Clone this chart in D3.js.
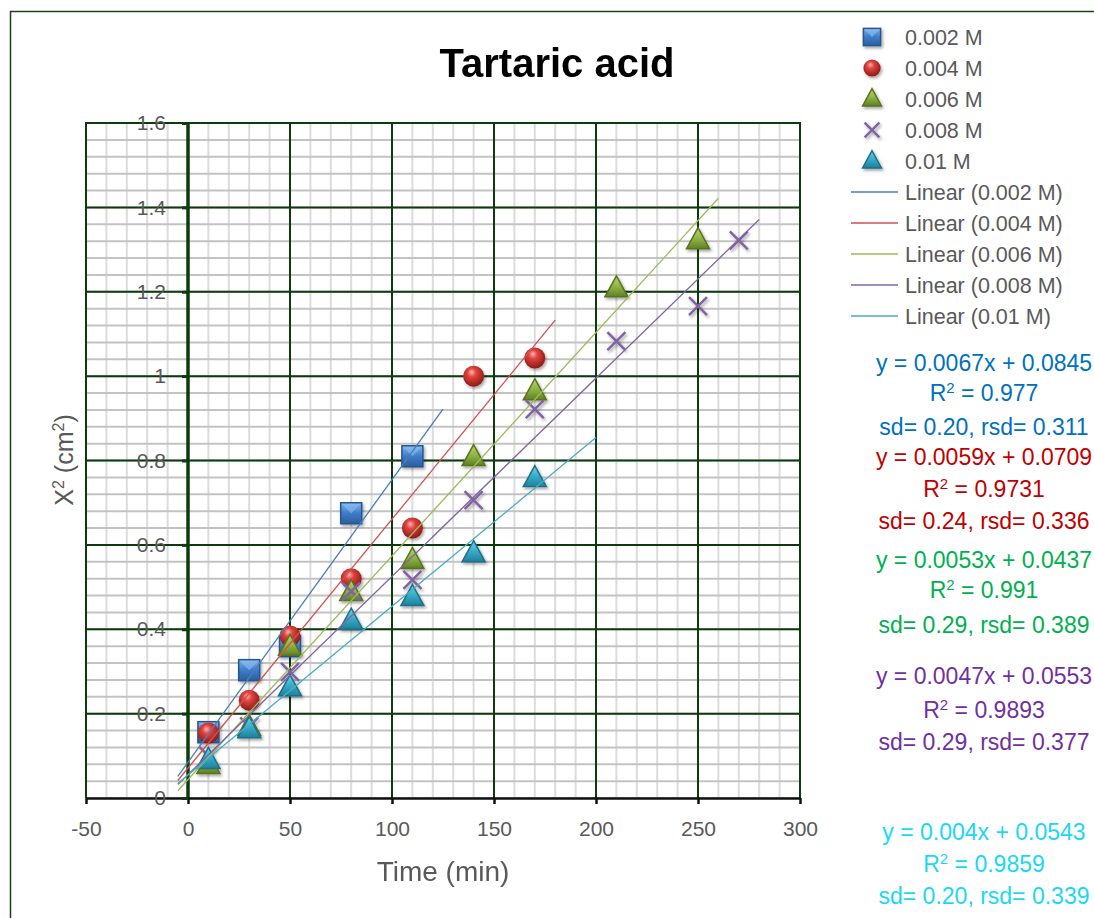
<!DOCTYPE html>
<html>
<head>
<meta charset="utf-8">
<script src="https://cdn.jsdelivr.net/npm/d3@7"></script>
<style>
    body { margin: 0; background: #fff; }
    text { font-family: "Liberation Sans", Arial, sans-serif; }
</style>
</head>
<body>
<div id="graph1"></div>
<script>
// chart data
const seriesNames = ["0.002 M", "0.004 M", "0.006 M", "0.008 M", "0.01 M"];

const time_002 = [10, 30, 50, 80, 110];
const x2_002 = [0.156, 0.303, 0.36, 0.675, 0.81];

const time_004 = [10, 30, 50, 80, 110, 140, 170];
const x2_004 = [0.154, 0.232, 0.384, 0.52, 0.64, 1.0, 1.043];

const time_006 = [10, 30, 50, 80, 110, 140, 170, 210, 250];
const x2_006 = [0.078, 0.168, 0.358, 0.488, 0.564, 0.808, 0.964, 1.208, 1.322];

const time_008 = [10, 30, 50, 80, 110, 140, 170, 210, 250, 270];
const x2_008 = [0.1, 0.17, 0.299, 0.49, 0.517, 0.706, 0.922, 1.083, 1.166, 1.322];

const time_01 = [10, 30, 50, 80, 110, 140, 170];
const x2_01 = [0.09, 0.163, 0.262, 0.42, 0.476, 0.58, 0.758];

// linear trendlines (from the equations on the chart)
const slopes = [0.0067, 0.0059, 0.0053, 0.0047, 0.004];
const intercepts = [0.0845, 0.0709, 0.0437, 0.0553, 0.0543];
const trendStart = [-5, -5, -5, -5, -5];
const trendEnd = [125, 180, 260, 280, 200];
const rSquared = ["0.977", "0.9731", "0.991", "0.9893", "0.9859"];
const sdLabels = ["sd= 0.20, rsd= 0.311", "sd= 0.24, rsd= 0.336", "sd= 0.29, rsd= 0.389",
                  "sd= 0.29, rsd= 0.377", "sd= 0.20, rsd= 0.339"];

// axis ticks
const xTicks = [-50, 0, 50, 100, 150, 200, 250, 300];
const yTicks = [0, 0.2, 0.4, 0.6, 0.8, 1, 1.2, 1.4, 1.6];

const WIDTH = 1094, HEIGHT = 918;
const plot = { left: 86, right: 800, top: 123, bottom: 798 };

const allTimes = [time_002, time_004, time_006, time_008, time_01];
const allValues = [x2_002, x2_004, x2_006, x2_008, x2_01];
const markerKinds = ["square", "sphere", "triangleGreen", "cross", "triangleCyan"];
const lineColors = ["#4a7ebb", "#d0524f", "#9bbb59", "#8064a2", "#4bacc6"];
const eqColors = ["#0070c0", "#c00000", "#00b050", "#7030a0", "#1ad8f5"];
const eqTop = [371, 465, 568, 684, 840];
const eqGaps = [[0, 30, 64], [0, 32, 64], [0, 30, 65], [0, 34, 66], [0, 32, 64]];

let svg = d3.select("#graph1")
    .append("svg")
    .attr("width", WIDTH)
    .attr("height", HEIGHT);

// gradients + shadow for the 3d looking markers
let defs = svg.append("defs");

function linGrad(id, stops) {
    let g = defs.append("linearGradient").attr("id", id)
        .attr("x1", 0).attr("y1", 0).attr("x2", 0).attr("y2", 1);
    stops.forEach(function (s) {
        g.append("stop").attr("offset", s[0]).attr("stop-color", s[1]);
    });
}
linGrad("gBlue", [[0, "#7fb2ea"], [0.5, "#3d7cc9"], [1, "#2a5f9e"]]);
linGrad("gGreen", [[0, "#b8d76e"], [0.55, "#8cb043"], [1, "#617f25"]]);
linGrad("gCyan", [[0, "#6fd2ea"], [0.55, "#34a7c4"], [1, "#21809a"]]);

let rg = defs.append("radialGradient").attr("id", "gRed")
    .attr("cx", 0.45).attr("cy", 0.4).attr("r", 0.6).attr("fx", 0.4).attr("fy", 0.3);
rg.append("stop").attr("offset", 0).attr("stop-color", "#ffb3b0");
rg.append("stop").attr("offset", 0.35).attr("stop-color", "#e0433e");
rg.append("stop").attr("offset", 1).attr("stop-color", "#8e1a17");

defs.append("filter").attr("id", "shadow")
    .attr("x", "-50%").attr("y", "-50%").attr("width", "200%").attr("height", "200%")
    .append("feDropShadow")
    .attr("dx", 1.5).attr("dy", 2).attr("stdDeviation", 1.5)
    .attr("flood-color", "#000").attr("flood-opacity", 0.35);

// outer chart border (runs off the right and bottom of the picture)
svg.append("path")
    .attr("d", `M10.5,${HEIGHT} L10.5,11.5 L${WIDTH},11.5`)
    .attr("fill", "none")
    .attr("stroke", "#1c421c")
    .attr("stroke-width", 1.5);

// scales
let x = d3.scaleLinear().domain([-50, 300]).range([plot.left, plot.right]);
let y = d3.scaleLinear().domain([0, 1.6]).range([plot.bottom, plot.top]);

// minor grid
let grid = svg.append("g");
grid.selectAll(".vminor")
    .data(d3.range(-50, 301, 10))
    .enter().append("line")
    .attr("x1", function (d) { return x(d); }).attr("x2", function (d) { return x(d); })
    .attr("y1", plot.top).attr("y2", plot.bottom)
    .attr("stroke", "#dcdcdc").attr("stroke-width", 2);
grid.selectAll(".hminor")
    .data(d3.range(0, 41).map(function (i) { return i * 0.04; }))
    .enter().append("line")
    .attr("x1", plot.left).attr("x2", plot.right)
    .attr("y1", function (d) { return y(d); }).attr("y2", function (d) { return y(d); })
    .attr("stroke", "#c3c3c3").attr("stroke-width", 2);

// major grid
grid.selectAll(".vmajor")
    .data(xTicks)
    .enter().append("line")
    .attr("x1", function (d) { return x(d); }).attr("x2", function (d) { return x(d); })
    .attr("y1", plot.top - 1).attr("y2", plot.bottom)
    .attr("stroke", "#0d3b0d").attr("stroke-width", function (d) { return d === 0 ? 3.5 : 2; });
grid.selectAll(".hmajor")
    .data(yTicks.slice(1))
    .enter().append("line")
    .attr("x1", plot.left).attr("x2", plot.right)
    .attr("y1", function (d) { return y(d); }).attr("y2", function (d) { return y(d); })
    .attr("stroke", "#0d3b0d").attr("stroke-width", 2);

// x axis
let xAxis = svg.append("g")
    .attr("transform", `translate(0, ${plot.bottom})`)
    .call(d3.axisBottom(x).tickValues(xTicks).tickSize(6).tickPadding(17).tickSizeOuter(0)
        .tickFormat(function (d) { return String(d); }));
xAxis.select(".domain").attr("stroke", "#111").attr("stroke-width", 2.5);
xAxis.selectAll(".tick line").attr("stroke", "#111").attr("stroke-width", 2.5);
xAxis.selectAll("text")
    .style("font-family", "Liberation Sans, Arial, sans-serif")
    .style("font-size", "21px")
    .attr("fill", "#595959");

// y axis (only ticks + labels, the line is the thick gridline at x = 0)
let yAxis = svg.append("g")
    .attr("transform", `translate(${x(0)}, 0)`)
    .call(d3.axisLeft(y).tickValues(yTicks).tickSize(6).tickPadding(16).tickSizeOuter(0)
        .tickFormat(function (d) { return String(+d.toFixed(1)); }));
yAxis.select(".domain").remove();
yAxis.selectAll(".tick line").attr("stroke", "#0d3b0d").attr("stroke-width", 3);
yAxis.selectAll("text")
    .style("font-family", "Liberation Sans, Arial, sans-serif")
    .style("font-size", "21px")
    .attr("fill", "#595959");

// markers
function drawMarker(g, kind, cx, cy, s) {
    if (kind === "square") {
        g.append("rect")
            .attr("x", cx - 10.5 * s).attr("y", cy - 10.5 * s)
            .attr("width", 21 * s).attr("height", 21 * s)
            .attr("fill", "url(#gBlue)").attr("stroke", "#27568d").attr("stroke-width", 1.5);
        g.append("path")
            .attr("d", `M${cx - 9.5 * s},${cy - 9.5 * s} L${cx},${cy} L${cx + 9.5 * s},${cy - 9.5 * s} Z`)
            .attr("fill", "#8fc0f2").attr("opacity", 0.55);
    } else if (kind === "sphere") {
        g.append("circle")
            .attr("cx", cx).attr("cy", cy).attr("r", 10.5 * s)
            .attr("fill", "url(#gRed)");
    } else if (kind === "triangleGreen" || kind === "triangleCyan") {
        let w = 11.5 * s, h = 21 * s;
        g.append("path")
            .attr("d", `M${cx},${cy - h * 0.6} L${cx + w},${cy + h * 0.4} L${cx - w},${cy + h * 0.4} Z`)
            .attr("fill", kind === "triangleGreen" ? "url(#gGreen)" : "url(#gCyan)")
            .attr("stroke", kind === "triangleGreen" ? "#56741c" : "#1c7188")
            .attr("stroke-width", 1.5);
    } else if (kind === "cross") {
        let r = 9 * s;
        g.append("path")
            .attr("d", `M${cx - r},${cy - r} L${cx + r},${cy + r} M${cx + r},${cy - r} L${cx - r},${cy + r}`)
            .attr("stroke", "#8064a2").attr("stroke-width", 2.5).attr("fill", "none");
    }
}

let markerLayer = svg.append("g").attr("filter", "url(#shadow)");
seriesNames.forEach(function (name, i) {
    let g = markerLayer.append("g");
    allTimes[i].forEach(function (t, j) {
        drawMarker(g, markerKinds[i], x(t), y(allValues[i][j]), 1);
    });
});

// trendlines
seriesNames.forEach(function (name, i) {
    let pts = [trendStart[i], trendEnd[i]].map(function (t) {
        return [t, slopes[i] * t + intercepts[i]];
    });
    svg.append("path")
        .datum(pts)
        .attr("fill", "none")
        .attr("stroke", lineColors[i])
        .attr("stroke-width", 1.3)
        .attr("d", d3.line()
            .x(function (d) { return x(d[0]); })
            .y(function (d) { return y(d[1]); }));
});

// chart title
svg.append("text")
    .attr("x", 557).attr("y", 77)
    .style("text-anchor", "middle")
    .style("font-size", "40px")
    .style("font-weight", 700)
    .attr("fill", "#000")
    .text("Tartaric acid");

// x-axis label
svg.append("text")
    .attr("x", 443).attr("y", 881)
    .style("text-anchor", "middle")
    .style("font-size", "28px")
    .attr("fill", "#595959")
    .text("Time (min)");

// y-axis label, with real superscripts
let yTitle = svg.append("text")
    .attr("transform", "translate(73, 460) rotate(-90)")
    .style("text-anchor", "middle")
    .style("font-size", "25px")
    .attr("fill", "#595959");
yTitle.append("tspan").text("X");
yTitle.append("tspan").attr("dy", -9).style("font-size", "16px").text("2");
yTitle.append("tspan").attr("dy", 9).text(" (cm");
yTitle.append("tspan").attr("dy", -9).style("font-size", "16px").text("2");
yTitle.append("tspan").attr("dy", 9).text(")");

// legend
let legend = svg.append("g");
const legendRow = 31;
seriesNames.forEach(function (name, i) {
    let cy = 37 + i * legendRow;
    let g = legend.append("g").attr("filter", "url(#shadow)");
    drawMarker(g, markerKinds[i], 872, cy, 0.82);
    legend.append("text")
        .attr("x", 905).attr("y", cy + 8)
        .style("font-size", "21.5px")
        .attr("fill", "#595959")
        .text(name);
});
seriesNames.forEach(function (name, i) {
    let cy = 37 + (i + 5) * legendRow;
    legend.append("line")
        .attr("x1", 851).attr("x2", 898)
        .attr("y1", cy).attr("y2", cy)
        .attr("stroke", lineColors[i]).attr("stroke-width", 1.3);
    legend.append("text")
        .attr("x", 905).attr("y", cy + 8)
        .style("font-size", "21.5px")
        .attr("fill", "#595959")
        .text("Linear (" + name + ")");
});

// trendline equations
seriesNames.forEach(function (name, i) {
    let base = eqTop[i];
    svg.append("text")
        .attr("x", 984).attr("y", base + eqGaps[i][0])
        .style("text-anchor", "middle")
        .style("font-size", "23px")
        .attr("fill", eqColors[i])
        .text("y = " + slopes[i] + "x + " + intercepts[i]);

    let t2 = svg.append("text")
        .attr("x", 984).attr("y", base + eqGaps[i][1])
        .style("text-anchor", "middle")
        .style("font-size", "23px")
        .attr("fill", eqColors[i]);
    t2.append("tspan").text("R");
    t2.append("tspan").attr("dy", -8).style("font-size", "15px").text("2");
    t2.append("tspan").attr("dy", 8).text(" = " + rSquared[i]);

    svg.append("text")
        .attr("x", 984).attr("y", base + eqGaps[i][2])
        .style("text-anchor", "middle")
        .style("font-size", "23px")
        .attr("fill", eqColors[i])
        .text(sdLabels[i]);
});
</script>
</body>
</html>
